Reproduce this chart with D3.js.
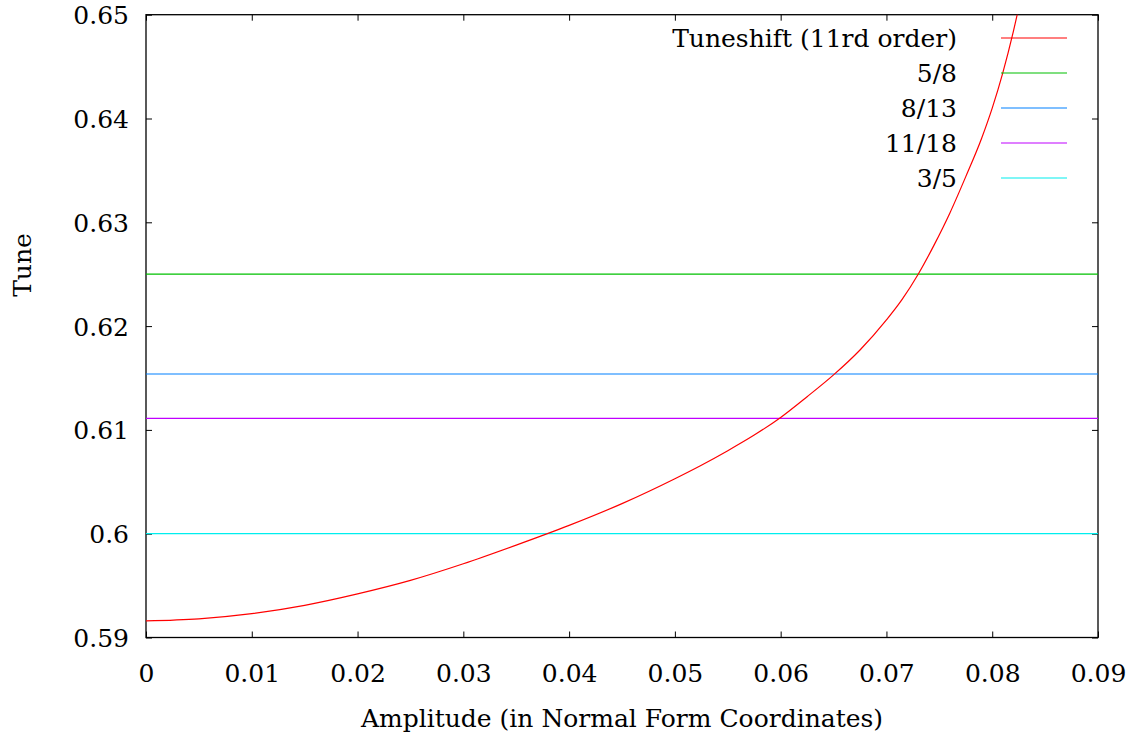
<!DOCTYPE html>
<html>
<head>
<meta charset="utf-8">
<script src="https://cdn.jsdelivr.net/npm/d3@7"></script>
<style>
  html, body { margin: 0; padding: 0; background: #fff; }
  svg text { font-family: 'DejaVu Serif', serif; font-size: 25px; fill: #000; }
</style>
</head>
<body>
<svg id="chart" width="1136" height="744"></svg>
<script>
// amplitude (normal form coordinates) vs tune
const amplitude = [0, 0.005, 0.01, 0.015, 0.02, 0.025, 0.03, 0.035, 0.04, 0.045, 0.05,
  0.0525, 0.055, 0.0575, 0.06, 0.0625, 0.065, 0.0675, 0.07, 0.0715, 0.073, 0.0745, 0.076,
  0.0775, 0.079, 0.08, 0.081, 0.082, 0.083]
const tune = [0.5916, 0.5918, 0.5923, 0.5931, 0.5942, 0.5955, 0.5971, 0.5989, 0.6008, 0.6029,
  0.6053, 0.6066, 0.6080, 0.6095, 0.6112, 0.6132, 0.6153, 0.6177, 0.6206, 0.6226, 0.6250,
  0.6278, 0.6309, 0.6344, 0.6381, 0.6410, 0.6444, 0.6484, 0.6530]

const resonanceNames = ['5/8', '8/13', '11/18', '3/5']
const resonanceValues = [5 / 8, 8 / 13, 11 / 18, 3 / 5]

const legendNames = ['Tuneshift (11rd order)'].concat(resonanceNames)
const legendColors = ['#ff0000', '#00c000', '#0080ff', '#c000ff', '#00eeee']

const xTicks = [0, 0.01, 0.02, 0.03, 0.04, 0.05, 0.06, 0.07, 0.08, 0.09]
const xTickLabels = ['0', '0.01', '0.02', '0.03', '0.04', '0.05', '0.06', '0.07', '0.08', '0.09']
const yTicks = [0.59, 0.6, 0.61, 0.62, 0.63, 0.64, 0.65]
const yTickLabels = ['0.59', '0.6', '0.61', '0.62', '0.63', '0.64', '0.65']

const plot = { left: 146, right: 1098, top: 14.7, bottom: 637.5 }

const svg = d3.select('#chart')

const x = d3.scaleLinear().domain([0, 0.09]).range([plot.left, plot.right])
const y = d3.scaleLinear().domain([0.59, 0.65]).range([plot.bottom, plot.top])

svg.append('defs').append('clipPath').attr('id', 'clip')
  .append('rect')
  .attr('x', plot.left).attr('y', plot.top)
  .attr('width', plot.right - plot.left).attr('height', plot.bottom - plot.top)

// axes, ticks pointing inward on all four sides
const tickLen = 6
const bottom = svg.append('g')
  .attr('transform', `translate(0,${plot.bottom})`)
  .call(d3.axisBottom(x).tickValues(xTicks).tickSizeInner(-tickLen).tickSizeOuter(0)
    .tickFormat((d, i) => xTickLabels[i]))
bottom.selectAll('text').attr('y', 44.5).attr('dy', 0)

const left = svg.append('g')
  .attr('transform', `translate(${plot.left},0)`)
  .call(d3.axisLeft(y).tickValues(yTicks).tickSizeInner(-tickLen).tickSizeOuter(0)
    .tickFormat((d, i) => yTickLabels[i]).tickPadding(17))
left.selectAll('text').attr('dy', '0.36em')

svg.append('g')
  .attr('transform', `translate(0,${plot.top})`)
  .call(d3.axisTop(x).tickValues(xTicks).tickSizeInner(-tickLen).tickSizeOuter(0).tickFormat(''))

svg.append('g')
  .attr('transform', `translate(${plot.right},0)`)
  .call(d3.axisRight(y).tickValues(yTicks).tickSizeInner(-tickLen).tickSizeOuter(0).tickFormat(''))

svg.selectAll('.domain').remove()
svg.selectAll('.tick line').attr('stroke', '#000').attr('stroke-width', 1)

svg.append('rect')
  .attr('x', plot.left).attr('y', plot.top)
  .attr('width', plot.right - plot.left).attr('height', plot.bottom - plot.top)
  .attr('fill', 'none').attr('stroke', '#000').attr('stroke-width', 1.3)

const data = svg.append('g').attr('clip-path', 'url(#clip)')

// resonance lines
data.selectAll('line.res')
  .data(resonanceValues)
  .enter()
  .append('line')
  .attr('class', 'res')
  .attr('x1', plot.left).attr('x2', plot.right)
  .attr('y1', (d) => y(d)).attr('y2', (d) => y(d))
  .attr('stroke', (d, i) => legendColors[i + 1])
  .attr('stroke-width', 1.2)

// tuneshift curve
const line = d3.line()
  .x((d) => x(d[0]))
  .y((d) => y(d[1]))
  .curve(d3.curveMonotoneX)

data.append('path')
  .datum(d3.zip(amplitude, tune))
  .attr('d', line)
  .attr('fill', 'none')
  .attr('stroke', legendColors[0])
  .attr('stroke-width', 1.2)

// legend
const rows = svg.append('g').selectAll('g')
  .data(legendNames)
  .enter()
  .append('g')
  .attr('transform', (d, i) => `translate(0,${38 + i * 35})`)

rows.append('text')
  .attr('x', 957)
  .attr('dy', '0.36em')
  .attr('text-anchor', 'end')
  .text((d) => d)

rows.append('line')
  .attr('x1', 1001).attr('x2', 1067)
  .attr('stroke', (d, i) => legendColors[i])
  .attr('stroke-width', 1.2)

// axis titles
svg.append('text')
  .attr('x', (plot.left + plot.right) / 2)
  .attr('y', 727)
  .attr('text-anchor', 'middle')
  .text('Amplitude (in Normal Form Coordinates)')

svg.append('text')
  .attr('transform', 'translate(31,265) rotate(-90)')
  .attr('text-anchor', 'middle')
  .text('Tune')
</script>
</body>
</html>
